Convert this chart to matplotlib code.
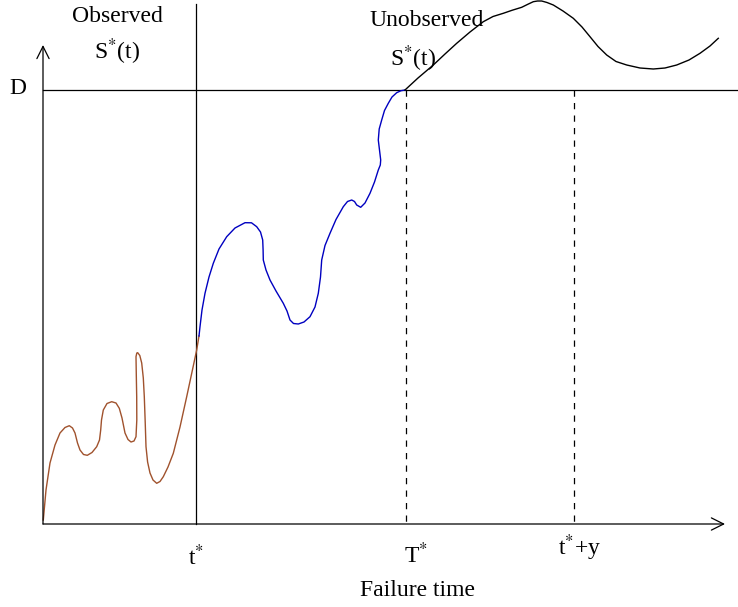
import matplotlib.pyplot as plt

plt.rcParams['font.family'] = ['Liberation Serif', 'DejaVu Serif']
plt.rcParams['mathtext.fontset'] = 'stix'

# sketch coordinates (pixels of the original drawing, y downwards)
obs_x = [43.3, 46, 50, 55, 60, 65, 69.3, 72.5, 75, 77.5, 80, 83.5, 87.3, 92, 96.7, 99.5, 100.7, 101.5,
         103.3, 107, 111.7, 116, 119.3, 122, 125, 128, 131, 134, 136, 136.8, 136.7, 136.3, 136,
         136.8, 137.7, 139.8, 141.7, 143.3, 144.3, 145.2, 146, 147.6, 150, 153, 156.7, 160,
         163.3, 168, 173.3, 180, 186.7, 192, 196.7, 199]
obs_y = [520, 490, 463, 445, 433, 427.5, 425.7, 428, 433, 443, 450, 454.5, 455.3, 452.5, 446.7, 440, 430, 420,
         410, 403.5, 401.7, 403, 408.3, 418, 433, 439.5, 442, 441, 436.7, 420, 396.7, 375, 356.7,
         353, 352.7, 355.5, 363, 378, 396.7, 422, 446.7, 462, 473, 480, 483.3, 481.5,
         476.7, 467, 453.3, 427, 396.7, 372, 350, 336]

pre_x = [199, 200, 202, 205, 209, 213.3, 219, 226.7, 235, 245, 251.5, 256.7, 260.5, 262.7, 263.1, 263.3,
         266, 270, 276, 283.3, 287, 290, 293.5, 298.3, 304, 310, 315, 318.3, 320.5, 321.7, 325,
         330, 336, 343.3, 347.5, 351.7, 354.5, 356.7, 360.7, 365, 370, 374.5, 378.3, 380.3, 380.7,
         379.5, 378.3, 379.2, 381.7, 384.5, 388.3, 392, 396.7, 401, 405]
pre_y = [336, 326.7, 310, 293.3, 277, 263.3, 249, 236.7, 228, 222.7, 222.8, 226.7, 232, 240, 250, 260,
         270, 280, 291, 303.3, 311, 320, 323.5, 324, 322, 316.7, 307, 293.3, 277, 260, 245.5,
         233.3, 219.5, 206.7, 201.5, 200, 201.5, 205, 207.3, 203, 193.3, 182, 170, 165, 160,
         150, 140, 129, 120, 110.5, 103.3, 97, 92.7, 90.7, 90]

post_x = [405, 418, 433.3, 445, 456.7, 470, 483.3, 493, 503.3, 512, 521.7, 528, 533.3, 537.5, 541.7,
          547, 553.3, 563, 573.3, 582, 590, 598, 606.7, 616, 626.7, 640, 653.3, 665, 676.7, 689,
          700, 710, 718.3]
post_y = [90, 78, 65, 54, 43.3, 32, 21.7, 16.5, 13.3, 10.3, 7.3, 4.2, 1.7, 1, 1,
          2.5, 5, 11, 18.3, 27, 36.7, 46.5, 55, 61.5, 65, 68, 69, 68, 65, 60,
          53.3, 46, 38.3]

x_origin, y_origin = 43, 524
x_end, y_top = 725, 45
d_level = 90
t_star, T_star, t_star_y = 196, 406, 574

fig = plt.figure(figsize=(7.38, 6.07), dpi=100)
ax = fig.add_axes([0, 0, 1, 1])
ax.set_xlim(0, 738)
ax.set_ylim(607, 0)
ax.axis('off')

# axes with open arrow heads
arrow = dict(arrowstyle='->', lw=0.9, color='black', mutation_scale=22, shrinkA=0, shrinkB=0)
ax.annotate('', xy=(x_end, y_origin), xytext=(x_origin, y_origin), arrowprops=arrow)
ax.annotate('', xy=(x_origin, y_top), xytext=(x_origin, y_origin), arrowprops=arrow)

# threshold D and the time markers
ax.plot([x_origin, 738], [d_level, d_level], color='black', lw=0.9)
ax.plot([t_star, t_star], [4, y_origin], color='black', lw=0.9)
for xv in (T_star, t_star_y):
    ax.plot([xv, xv], [d_level, y_origin], color='black', lw=0.9, linestyle=(0, (5, 5)))

# degradation path
ax.plot(obs_x, obs_y, color='#a0522d', lw=1.0, solid_joinstyle='round')
ax.plot(pre_x, pre_y, color='#0000c0', lw=1.0, solid_joinstyle='round')
ax.plot(post_x, post_y, color='black', lw=1.0, solid_joinstyle='round')

fs = 17
ax.text(117, 17, 'Observed', fontsize=fs, ha='center', va='center')
ax.text(117, 52, r'S$^{*}$(t)', fontsize=fs, ha='center', va='center')
ax.text(427, 21, 'Unobserved', fontsize=fs, ha='center', va='center')
ax.text(413, 59, r'S$^{*}$(t)', fontsize=fs, ha='center', va='center')
ax.text(18, 88, 'D', fontsize=fs, ha='center', va='center')
ax.text(196, 557, r't$^{*}$', fontsize=fs, ha='center', va='center')
ax.text(416, 555, r'T$^{*}$', fontsize=fs, ha='center', va='center')
ax.text(580, 548, r't$^{*}$+y', fontsize=fs, ha='center', va='center')
ax.text(417, 590, 'Failure time', fontsize=fs, ha='center', va='center')

fig.savefig('out.png', dpi=100)
